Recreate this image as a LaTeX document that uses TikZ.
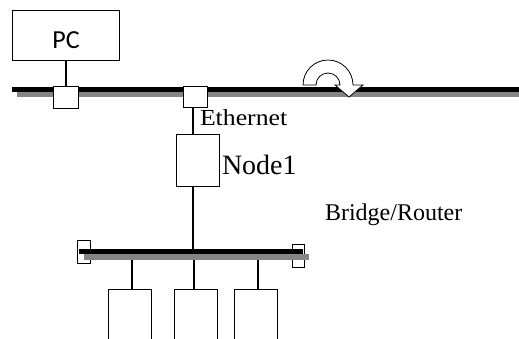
\documentclass[tikz,border=0pt]{standalone}
\usepackage{fontspec}
\setmainfont{Liberation Serif}
\newfontfamily\pcfont{Carlito}
\begin{document}
\begin{tikzpicture}[x=1pt,y=-1pt,
  box/.style={draw=black, line width=1.4pt, fill=white, inner sep=0pt, outer sep=0pt},
  lbl/.style={inner sep=0pt, outer sep=0pt, anchor=base west},
  wire/.style={line width=1.4pt},
  busblack/.style={line width=5pt, black},
  busgray/.style={line width=6pt, black!48},
  turn/.style={draw=black, line width=0.8pt, fill=white}]
\useasboundingbox (0,0) rectangle (519,338);
\clip (0,0) rectangle (519,338);

% --- top segment (Ethernet)
\draw[busgray]  (17,93.5) -- (519,93.5);
\draw[busblack] (12,89.5) -- (519,89.5);

\node[box, minimum width=107pt, minimum height=50pt, text height=25pt, text depth=0pt,
      font=\pcfont\fontsize{26}{26}\selectfont] (pc) at (66,35.5) {PC};
\node[box, minimum width=25pt, minimum height=22pt] (port1) at (66,97.5) {};
\node[box, minimum width=24pt, minimum height=21pt] (port2) at (195.5,97) {};
\draw[wire] (pc.south) -- (port1.north);

% turning arrow on the bus
\draw[turn] (303,85) arc[start angle=180, end angle=360, radius=25]
  -- (363,85) -- (349,97) -- (335,85) -- (340,85)
  arc[start angle=0, end angle=-180, radius=12] -- cycle;

% --- bridge / router node
\node[box, minimum width=43pt, minimum height=52pt] (node1) at (198,160.5) {};
\coordinate (vx) at (193,0);
\draw[wire] (vx |- port2.south) -- (vx |- node1.north);

\node[lbl, font=\fontsize{23}{23}\selectfont] (eth) at (200,125) {\scalebox{1.12}[1]{Ethernet}};
\node[lbl, font=\fontsize{28}{28}\selectfont] (n1lbl) at (222,174) {Node1};
\node[lbl, font=\fontsize{24}{24}\selectfont] (br) at (325,220) {Bridge/Router};

% --- lower segment
\node[box, minimum width=13pt, minimum height=23pt] (term1) at (84,252) {};
\node[box, minimum width=12pt, minimum height=23pt] (term2) at (298.5,256) {};
\draw[busgray]  (84,256.5) -- (309,256.5);
\draw[busblack] (79,251) -- (303,251);
\coordinate (bus2) at (193,248.5);
\coordinate (bus2b) at (193,259.5);
\draw[wire] (vx |- node1.south) -- (bus2);

\node[box, minimum width=43pt, minimum height=70pt] (st1) at (130,324.5) {};
\node[box, minimum width=43pt, minimum height=70pt] (st2) at (196,324.5) {};
\node[box, minimum width=43pt, minimum height=70pt] (st3) at (256,324.5) {};
\coordinate (d1) at (132,259.5);
\coordinate (d2) at (194,259.5);
\coordinate (d3) at (258,259.5);
\draw[wire] (d1) -- (d1 |- st1.north);
\draw[wire] (d2) -- (d2 |- st2.north);
\draw[wire] (d3) -- (d3 |- st3.north);
\end{tikzpicture}
\end{document}
